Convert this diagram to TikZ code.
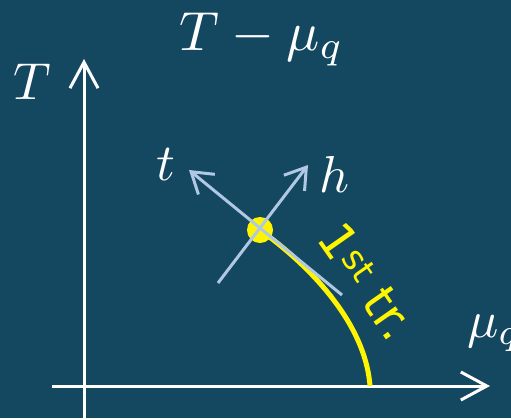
\documentclass[tikz,border=0pt]{standalone}
\usepackage{fontspec}
\newfontfamily\dejavu{DejaVu Sans}
\usetikzlibrary{arrows.meta}
\definecolor{bgblue}{RGB}{20,72,97}
\definecolor{dirblue}{RGB}{176,200,228}
\definecolor{trans}{RGB}{255,245,0}
\tikzset{
  axis/.style={draw=white, line width=3pt, -{Straight Barb[length=26pt,width=28pt,line width=3pt]}},
  dirarrow/.style={draw=dirblue, line width=3pt, -{Straight Barb[length=20pt,width=26pt,line width=3pt]}},
  mlabel/.style={text=white, font=\fontsize{10}{12}\selectfont, scale=5.2, inner sep=0pt, anchor=base west},
}
\begin{document}
\begin{tikzpicture}[x=1pt,y=-1pt]
\fill[bgblue] (0,0) rectangle (511,418);
\useasboundingbox (0,0) rectangle (511,418);
% axes
\coordinate (ybot) at (84,418);
\coordinate (ytop) at (84,59);
\coordinate (xleft) at (52,386);
\coordinate (xright) at (490,386);
\draw[axis] (ybot) -- (ytop);
\draw[axis] (xleft) -- (xright);
% labels
\node[mlabel, scale=1.06] (title) at (178,50) {$T-\mu_q$};
\node[mlabel] (Tlab) at (12,99) {$T$};
\node[mlabel] (mulab) at (466,337) {$\mu_q$};
% transition line
\coordinate (cp) at (260,230);
\coordinate (cend) at (370,386);
\draw[trans, line width=5pt] (cp) .. controls (305,262) and (365,320) .. (cend);
\fill[trans] (cp) circle (13);
% directions
\coordinate (tstart) at (342,295);
\coordinate (ttip) at (189,170);
\coordinate (hstart) at (218,283);
\coordinate (htip) at (308,165);
\draw[dirarrow] (tstart) -- (ttip);
\draw[dirarrow] (hstart) -- (htip);
\node[mlabel] (tlab) at (155,180) {$t$};
\node[mlabel] (hlab) at (318,192) {$h$};
% first order label
\node[text=trans, font=\dejavu\fontsize{49}{54}\selectfont, rotate=-55, inner sep=0pt] (first) at (367,281) {1\textsuperscript{st} tr.};
\end{tikzpicture}
\end{document}
